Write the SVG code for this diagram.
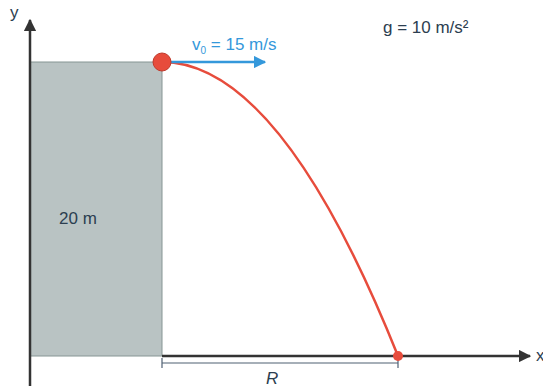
<svg xmlns="http://www.w3.org/2000/svg" width="543" height="390" viewBox="0 0 543 390">
<style>
text{font-family:"Liberation Sans",Arial,sans-serif;font-size:17px;fill:#2c3e50}
.axis{stroke:#333;stroke-width:2.5;fill:none}
</style>
<defs>
<marker id="ah" viewBox="0 0 10 10" refX="9" refY="5" markerWidth="5" markerHeight="5" orient="auto" markerUnits="strokeWidth"><path d="M0,0 L10,5 L0,10 z" fill="#333"/></marker>
<marker id="bh" viewBox="0 0 10 10" refX="9" refY="5" markerWidth="5" markerHeight="5" orient="auto" markerUnits="strokeWidth"><path d="M0,0 L10,5 L0,10 z" fill="#3498db"/></marker>
</defs>
<g id="building">
<rect x="30" y="62" width="132" height="294" fill="#b9c3c3" stroke="#869594" stroke-width="1"/>
<text x="59" y="224">20 m</text>
</g>
<g id="connectors">
<line class="axis" x1="30" y1="386" x2="30" y2="20" marker-end="url(#ah)"/>
<line class="axis" x1="162" y1="356" x2="530" y2="356" marker-end="url(#ah)"/>
<path d="M162,62 Q280,62 398,356" fill="none" stroke="#e74c3c" stroke-width="2.5"/>
<line x1="162" y1="62" x2="265" y2="62" stroke="#3498db" stroke-width="2.5" marker-end="url(#bh)"/>
<g stroke="#4f6073" stroke-width="1.2">
<line x1="162" y1="363" x2="398" y2="363"/>
<line x1="162" y1="358" x2="162" y2="368"/>
<line x1="398" y1="358" x2="398" y2="368"/>
</g>
</g>
<g id="labels">
<text x="10" y="18">y</text>
<text x="536" y="361">x</text>
<text x="192" y="50" style="fill:#3498db">v<tspan font-size="10" dy="4">0</tspan><tspan dy="-4"> = 15 m/s</tspan></text>
<text x="383" y="33">g = 10 m/s²</text>
<text x="266" y="384" font-style="italic">R</text>
</g>
<g id="start-ball"><circle cx="162" cy="62" r="9" fill="#e74c3c" stroke="#c0392b" stroke-width="1"/></g>
<g id="end-ball"><circle cx="398" cy="356" r="5" fill="#e74c3c"/></g>
</svg>
